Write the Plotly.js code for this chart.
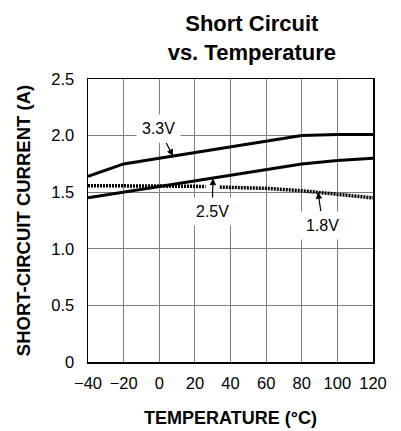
<!DOCTYPE html>
<html>
<head>
<meta charset="utf-8">
<script src="https://cdn.plot.ly/plotly-3.0.1.min.js"></script>
<style>html,body{margin:0;padding:0;background:#fff;}#chart{width:401px;height:431px;}</style>
</head>
<body>
<div id="chart"></div>
<script>
// Data
const temps = [-40, -20, 0, 20, 40, 60, 80, 100, 120];
const current33 = [1.64, 1.75, 1.80, 1.85, 1.90, 1.95, 2.00, 2.01, 2.01];
const current25 = [1.45, 1.50, 1.545, 1.60, 1.65, 1.70, 1.75, 1.78, 1.80];
const temps18 = [-40, -20, 0, 20, 26, null, 34, 40, 60, 80, 100, 120];
const current18 = [1.558, 1.558, 1.557, 1.552, 1.55, null, 1.545, 1.542, 1.534, 1.513, 1.484, 1.45];
const xTickVals = [-40, -20, 0, 20, 40, 60, 80, 100, 120];
const xTickText = ['\u221240', '\u221220', '0', '20', '40', '60', '80', '100', '120'];
const yTickVals = [0, 0.5, 1.0, 1.5, 2.0, 2.5];
const yTickText = ['0', '0.5', '1.0', '1.5', '2.0', '2.5'];
const labels = ['3.3V', '2.5V', '1.8V'];
const labelX = [7.7, 30.2, 89.1];
const labelY = [1.82, 1.62, 1.50];

const FONT = 'Arial, "Liberation Sans", Helvetica, sans-serif';

const traces = [
  {x: temps, y: current33, mode: 'lines', line: {color: '#000', width: 3}, hoverinfo: 'skip'},
  {x: temps, y: current25, mode: 'lines', line: {color: '#000', width: 3}, hoverinfo: 'skip'},
  {x: temps18, y: current18, mode: 'lines', connectgaps: false, line: {color: '#000', width: 3.5, dash: '2px,1px'}, hoverinfo: 'skip'}
];

const offsets = [[-14, -27], [-1, 33], [5, 33]];
const annotations = labels.map((t, i) => ({
  x: labelX[i], y: labelY[i], xref: 'x', yref: 'y',
  text: t, showarrow: true, ax: offsets[i][0], ay: offsets[i][1],
  arrowhead: 2, arrowsize: 1.1, arrowwidth: 1.2, arrowcolor: '#000',
  bgcolor: '#fff', borderpad: 5,
  font: {family: FONT, size: 16, color: '#000'}
}));

const layout = {
  width: 401, height: 431,
  margin: {l: 88, r: 28, t: 79, b: 69},
  paper_bgcolor: '#fff', plot_bgcolor: '#fff',
  showlegend: false,
  font: {family: FONT, color: '#000'},
  title: {
    text: '<b>Short Circuit<br>vs. Temperature</b>',
    font: {family: FONT, size: 22, color: '#000'},
    x: 230.5 / 401, xanchor: 'center', xref: 'paper',
    y: 1 - 31 / 431, yanchor: 'middle', yref: 'container'
  },
  xaxis: {
    range: [-40, 120],
    tickvals: xTickVals, ticktext: xTickText,
    showgrid: true, gridcolor: '#7f7f7f', gridwidth: 1,
    zeroline: false, showline: true, mirror: true, linecolor: '#000', linewidth: 1.5,
    ticks: '', ticklabelstandoff: 6,
    tickfont: {family: FONT, size: 16.5, color: '#000'},
    title: {text: '<b>TEMPERATURE (°C)</b>', font: {family: FONT, size: 18, color: '#000'}, standoff: 20},
    fixedrange: true
  },
  yaxis: {
    range: [0, 2.5],
    tickvals: yTickVals, ticktext: yTickText,
    showgrid: true, gridcolor: '#7f7f7f', gridwidth: 1,
    zeroline: false, showline: true, mirror: true, linecolor: '#000', linewidth: 1.5,
    ticks: '', ticklabelstandoff: 9,
    tickfont: {family: FONT, size: 16.5, color: '#000'},
    title: {text: '<b>SHORT-CIRCUIT CURRENT (A)</b>', font: {family: FONT, size: 18.5, color: '#000'}, standoff: 16},
    fixedrange: true
  },
  annotations: annotations
};

Plotly.newPlot('chart', traces, layout, {displayModeBar: false, staticPlot: true});
</script>
</body>
</html>
